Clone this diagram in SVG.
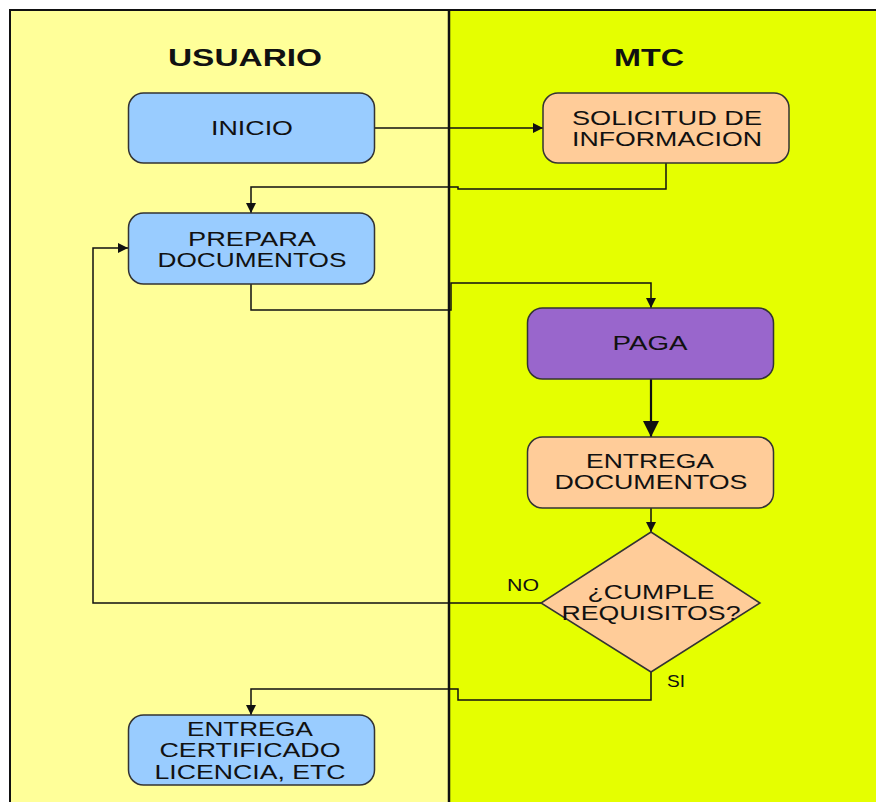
<svg xmlns="http://www.w3.org/2000/svg" width="876" height="802" viewBox="0 0 876 802">
<defs>
<style>
.t{font-family:"Liberation Sans",Arial,sans-serif;font-size:20px;fill:#111;text-anchor:middle}
.h{font-family:"Liberation Sans",Arial,sans-serif;font-size:24px;font-weight:bold;fill:#111;text-anchor:middle}
.l{font-family:"Liberation Sans",Arial,sans-serif;font-size:17px;fill:#111}
.blue{fill:#99CCFF;stroke:#333;stroke-width:1.5}
.orange{fill:#FFCC99;stroke:#333;stroke-width:1.5}
.purple{fill:#9966CC;stroke:#333;stroke-width:1.5}
.c{fill:none;stroke:#111;stroke-width:1.5}
</style>
<marker id="a" viewBox="0 0 10 10" refX="10" refY="5" markerWidth="10" markerHeight="10" markerUnits="userSpaceOnUse" orient="auto">
<path d="M0,0 L10,5 L0,10 Z" fill="#111"/>
</marker>
<marker id="ab" viewBox="0 0 10 10" refX="10" refY="5" markerWidth="18" markerHeight="16" markerUnits="userSpaceOnUse" orient="auto">
<path d="M0,0 L10,5 L0,10 Z" fill="#111"/>
</marker>
</defs>
<rect x="0" y="0" width="876" height="802" fill="#ffffff"/>
<rect x="10" y="10" width="439" height="800" fill="#FFFF99"/>
<rect x="449" y="10" width="430" height="800" fill="#E5FF00"/>
<rect x="10" y="10" width="880" height="800" fill="none" stroke="#111" stroke-width="2"/>
<line x1="449" y1="10" x2="449" y2="802" stroke="#111" stroke-width="2.5"/>
<text class="h" x="245" y="66" textLength="154" lengthAdjust="spacingAndGlyphs">USUARIO</text>
<text class="h" x="649" y="66" textLength="70" lengthAdjust="spacingAndGlyphs">MTC</text>

<g id="connectors">
<path class="c" d="M374,128 H543" marker-end="url(#a)"/>
<path class="c" d="M666,163 V189 H458 V187 H251 V213" marker-end="url(#a)"/>
<path class="c" d="M251,284 V310 H451 V283 H651 V308" marker-end="url(#a)"/>
<path d="M651,378 V437" fill="none" stroke="#111" stroke-width="2.2" marker-end="url(#ab)"/>
<path class="c" d="M651,507 V532" marker-end="url(#a)"/>
<path class="c" d="M541,603 H93 V248 H128" marker-end="url(#a)"/>
<path class="c" d="M651,672 V700 H458 V689 H251 V715" marker-end="url(#a)"/>
<text class="l" x="507" y="591" textLength="32" lengthAdjust="spacingAndGlyphs">NO</text>
<text class="l" x="667" y="687" textLength="18" lengthAdjust="spacingAndGlyphs">SI</text>
</g>

<g id="inicio">
<rect class="blue" x="128.5" y="93" width="246" height="70" rx="15"/>
<text class="t" x="252" y="135" textLength="82" lengthAdjust="spacingAndGlyphs">INICIO</text>
</g>
<g id="solicitud">
<rect class="orange" x="543" y="93" width="246" height="70" rx="15"/>
<text class="t" x="667" y="125" textLength="190" lengthAdjust="spacingAndGlyphs">SOLICITUD DE</text>
<text class="t" x="667" y="146" textLength="190" lengthAdjust="spacingAndGlyphs">INFORMACION</text>
</g>
<g id="prepara">
<rect class="blue" x="128.5" y="213" width="246" height="71" rx="15"/>
<text class="t" x="252" y="246" textLength="128" lengthAdjust="spacingAndGlyphs">PREPARA</text>
<text class="t" x="252" y="267" textLength="189" lengthAdjust="spacingAndGlyphs">DOCUMENTOS</text>
</g>
<g id="paga">
<rect class="purple" x="527.5" y="308" width="246" height="71" rx="15"/>
<text class="t" x="650" y="350" textLength="75" lengthAdjust="spacingAndGlyphs">PAGA</text>
</g>
<g id="entrega-documentos">
<rect class="orange" x="527.5" y="437" width="246" height="71" rx="15"/>
<text class="t" x="650" y="468" textLength="128" lengthAdjust="spacingAndGlyphs">ENTREGA</text>
<text class="t" x="651" y="489" textLength="193" lengthAdjust="spacingAndGlyphs">DOCUMENTOS</text>
</g>
<g id="cumple">
<path class="orange" d="M651,532 L760,603 L651,672 L541,603 Z"/>
<text class="t" x="651" y="599" textLength="127" lengthAdjust="spacingAndGlyphs">¿CUMPLE</text>
<text class="t" x="651" y="620" textLength="179" lengthAdjust="spacingAndGlyphs">REQUISITOS?</text>
</g>
<g id="entrega-certificado">
<rect class="blue" x="128.5" y="715" width="246" height="70" rx="15"/>
<text class="t" x="250" y="736" textLength="126" lengthAdjust="spacingAndGlyphs">ENTREGA</text>
<text class="t" x="250" y="757" textLength="181" lengthAdjust="spacingAndGlyphs">CERTIFICADO</text>
<text class="t" x="250" y="779" textLength="191" lengthAdjust="spacingAndGlyphs">LICENCIA, ETC</text>
</g>
</svg>
